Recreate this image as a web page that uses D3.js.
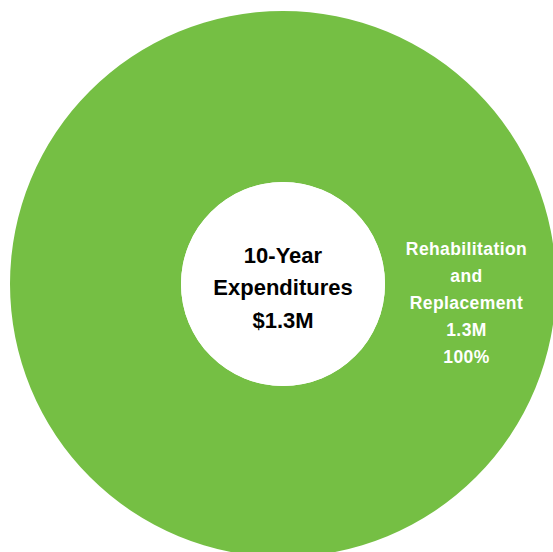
<!DOCTYPE html>
<html>
<head>
<meta charset="utf-8">
<script src="https://cdn.jsdelivr.net/npm/d3@7"></script>
<style>
  body { margin: 0; background: #fff; }
  svg { display: block; }
  text { font-family: "Liberation Sans", Arial, sans-serif; font-weight: bold; }
</style>
</head>
<body>
<svg id="chart" width="553" height="552"></svg>
<script>
// datos
var categorias = ["Rehabilitation and Replacement"];
var valores = [1.3];
var etiquetas = [["Rehabilitation", "and", "Replacement", "1.3M", "100%"]];
var titulo = ["10-Year", "Expenditures", "$1.3M"];
var colores = ["#75bf44"];

var width = 553, height = 552;
var cx = 283, cy = 284;
var radioExt = 273, radioInt = 102;

var svg = d3.select("#chart");
var g = svg.append("g").attr("transform", "translate(" + cx + "," + cy + ")");

var total = d3.sum(valores);
var pie = d3.pie().sort(null).value(function(d){ return d; });
var arc = d3.arc().innerRadius(radioInt).outerRadius(radioExt);
var color = d3.scaleOrdinal().domain(categorias).range(colores);

var slices = pie(valores);

g.selectAll("path.slice")
  .data(slices)
  .enter().append("path")
  .attr("class", "slice")
  .attr("fill", function(d, i){ return color(categorias[i]); })
  .attr("d", arc);

// centro blanco
g.append("circle").attr("r", radioInt).attr("fill", "#fff");

// texto del centro
var lineaC = 32.5;
g.append("text")
  .attr("text-anchor", "middle")
  .attr("font-size", 22)
  .attr("fill", "#000")
  .selectAll("tspan")
  .data(titulo)
  .enter().append("tspan")
  .attr("x", 0)
  .attr("y", function(d, i){ return (i - 1) * lineaC + 11; })
  .text(function(d){ return d; });

// etiqueta de la rebanada (a la derecha, radio medio)
var radioMedio = (radioInt + radioExt) / 2;
var lineaE = 27;
slices.forEach(function(s, k){
  // ángulo de la etiqueta: 90 grados (derecha)
  var ang = Math.PI / 2 * (s.value / total);
  var lx = Math.sin(ang) * radioMedio - 4;
  var ly = -Math.cos(ang) * radioMedio + 19;
  g.append("text")
    .attr("text-anchor", "middle")
    .attr("font-size", 17.5)
    .attr("letter-spacing", 0.4)
    .attr("fill", "#fff")
    .selectAll("tspan")
    .data(etiquetas[k])
    .enter().append("tspan")
    .attr("x", lx)
    .attr("y", function(d, i){ return ly + (i - 2) * lineaE + 6; })
    .text(function(d){ return d; });
});
</script>
</body>
</html>
